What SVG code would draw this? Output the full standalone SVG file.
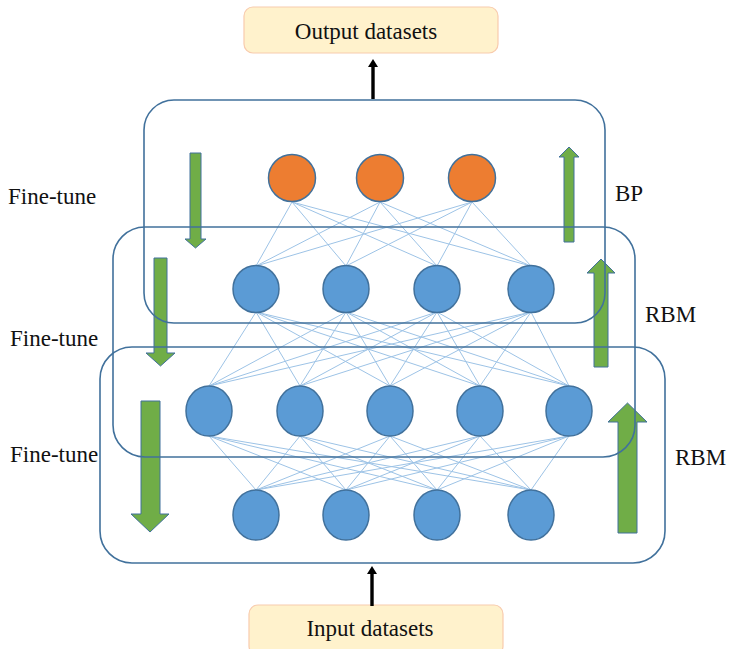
<svg xmlns="http://www.w3.org/2000/svg" width="729" height="649" viewBox="0 0 729 649">
<defs>
<style>
.lbl{font-family:"Liberation Serif","Times New Roman",serif;font-size:23px;fill:#111;}
.io{fill:#FFF2CC;stroke:#F8CBAD;stroke-width:1.2;}
.blk{fill:none;stroke:#41719C;stroke-width:1.6;}
.nb{fill:#5B9BD5;stroke:#41719C;stroke-width:1.5;}
.no{fill:#ED7D31;stroke:#41719C;stroke-width:1.5;}
.gr{fill:#70AD47;stroke:#41719C;stroke-width:1;}
.cn line{stroke:#9DC3E6;stroke-width:1;}
.ba{fill:#000;stroke:none;}
</style>
</defs>
<rect width="729" height="649" fill="#fff"/>

<g id="output-datasets">
<rect class="io" x="244" y="7" width="254" height="46" rx="9"/>
<text class="lbl" x="366" y="39" text-anchor="middle">Output datasets</text>
</g>
<g id="input-datasets">
<rect class="io" x="249" y="605" width="254" height="50" rx="9"/>
<text class="lbl" x="370" y="636" text-anchor="middle">Input datasets</text>
</g>

<g id="connectors" class="cn">
<g id="l1-l2">
<line x1="292" y1="202" x2="256" y2="266"/><line x1="292" y1="202" x2="346" y2="266"/><line x1="292" y1="202" x2="437" y2="266"/><line x1="292" y1="202" x2="531" y2="266"/>
<line x1="380" y1="202" x2="256" y2="266"/><line x1="380" y1="202" x2="346" y2="266"/><line x1="380" y1="202" x2="437" y2="266"/><line x1="380" y1="202" x2="531" y2="266"/>
<line x1="472" y1="202" x2="256" y2="266"/><line x1="472" y1="202" x2="346" y2="266"/><line x1="472" y1="202" x2="437" y2="266"/><line x1="472" y1="202" x2="531" y2="266"/>
</g>
<g id="l2-l3">
<line x1="256" y1="312" x2="209" y2="386"/><line x1="256" y1="312" x2="300" y2="386"/><line x1="256" y1="312" x2="390" y2="386"/><line x1="256" y1="312" x2="480" y2="386"/><line x1="256" y1="312" x2="569" y2="386"/>
<line x1="346" y1="312" x2="209" y2="386"/><line x1="346" y1="312" x2="300" y2="386"/><line x1="346" y1="312" x2="390" y2="386"/><line x1="346" y1="312" x2="480" y2="386"/><line x1="346" y1="312" x2="569" y2="386"/>
<line x1="437" y1="312" x2="209" y2="386"/><line x1="437" y1="312" x2="300" y2="386"/><line x1="437" y1="312" x2="390" y2="386"/><line x1="437" y1="312" x2="480" y2="386"/><line x1="437" y1="312" x2="569" y2="386"/>
<line x1="531" y1="312" x2="209" y2="386"/><line x1="531" y1="312" x2="300" y2="386"/><line x1="531" y1="312" x2="390" y2="386"/><line x1="531" y1="312" x2="480" y2="386"/><line x1="531" y1="312" x2="569" y2="386"/>
</g>
<g id="l3-l4">
<line x1="209" y1="436" x2="256" y2="490"/><line x1="209" y1="436" x2="346" y2="490"/><line x1="209" y1="436" x2="437" y2="490"/><line x1="209" y1="436" x2="531" y2="490"/>
<line x1="300" y1="436" x2="256" y2="490"/><line x1="300" y1="436" x2="346" y2="490"/><line x1="300" y1="436" x2="437" y2="490"/><line x1="300" y1="436" x2="531" y2="490"/>
<line x1="390" y1="436" x2="256" y2="490"/><line x1="390" y1="436" x2="346" y2="490"/><line x1="390" y1="436" x2="437" y2="490"/><line x1="390" y1="436" x2="531" y2="490"/>
<line x1="480" y1="436" x2="256" y2="490"/><line x1="480" y1="436" x2="346" y2="490"/><line x1="480" y1="436" x2="437" y2="490"/><line x1="480" y1="436" x2="531" y2="490"/>
<line x1="569" y1="436" x2="256" y2="490"/><line x1="569" y1="436" x2="346" y2="490"/><line x1="569" y1="436" x2="437" y2="490"/><line x1="569" y1="436" x2="531" y2="490"/>
</g>
<g id="io-arrows">
<rect class="ba" x="371.3" y="66" width="3.4" height="33"/>
<polygon class="ba" points="373,59 378,67 368,67"/>
<rect class="ba" x="370.3" y="573" width="3.4" height="33"/>
<polygon class="ba" points="372,566 377,574 367,574"/>
</g>
</g>

<g id="arrows">
<polygon id="ft-down-1" class="gr" points="190,153 201,153 201,239 206,239 195.5,248 185,239 190,239"/>
<polygon id="up-1" class="gr" points="564,242 574,242 574,157 579,157 569,147 559,157 564,157"/>
<polygon id="ft-down-2" class="gr" points="154,258 167,258 167,353 175,353 160.5,366 146,353 154,353"/>
<polygon id="up-2" class="gr" points="594,367 608,367 608,273 615,273 601,259 587,273 594,273"/>
<polygon id="ft-down-3" class="gr" points="141,401 160,401 160,514 169,514 150,532 131,514 141,514"/>
<polygon id="up-3" class="gr" points="618,533 637,533 637,422 647,422 627.5,403 608,422 618,422"/>
</g>

<g id="layer-bp">
<circle class="no" cx="292" cy="178" r="23.5"/>
<circle class="no" cx="380" cy="178" r="23.5"/>
<circle class="no" cx="472" cy="178" r="23.5"/>
</g>
<g id="layer-h2">
<ellipse class="nb" cx="256" cy="289" rx="23" ry="23.5"/>
<ellipse class="nb" cx="346" cy="289" rx="23" ry="23.5"/>
<ellipse class="nb" cx="437" cy="289" rx="23" ry="23.5"/>
<ellipse class="nb" cx="531" cy="289" rx="23" ry="23.5"/>
</g>
<g id="layer-h1">
<ellipse class="nb" cx="209" cy="411" rx="23" ry="25"/>
<ellipse class="nb" cx="300" cy="411" rx="23" ry="25"/>
<ellipse class="nb" cx="390" cy="411" rx="23" ry="25"/>
<ellipse class="nb" cx="480" cy="411" rx="23" ry="25"/>
<ellipse class="nb" cx="569" cy="411" rx="23" ry="25"/>
</g>
<g id="layer-input">
<ellipse class="nb" cx="256" cy="515" rx="23" ry="25"/>
<ellipse class="nb" cx="346" cy="515" rx="23" ry="25"/>
<ellipse class="nb" cx="437" cy="515" rx="23" ry="25"/>
<ellipse class="nb" cx="531" cy="515" rx="23" ry="25"/>
</g>

<g id="block-bp">
<rect class="blk" x="144" y="100" width="461" height="223" rx="30"/>
<text class="lbl" x="615" y="201">BP</text>
</g>
<g id="block-rbm-1">
<rect class="blk" x="113" y="227" width="522" height="230" rx="32"/>
<text class="lbl" x="645" y="322">RBM</text>
</g>
<g id="block-rbm-2">
<rect class="blk" x="100" y="347" width="565" height="216" rx="32"/>
<text class="lbl" x="675" y="465">RBM</text>
</g>

<g id="labels">
<text class="lbl" x="8" y="204">Fine-tune</text>
<text class="lbl" x="10" y="346">Fine-tune</text>
<text class="lbl" x="10" y="462">Fine-tune</text>
</g>
</svg>
